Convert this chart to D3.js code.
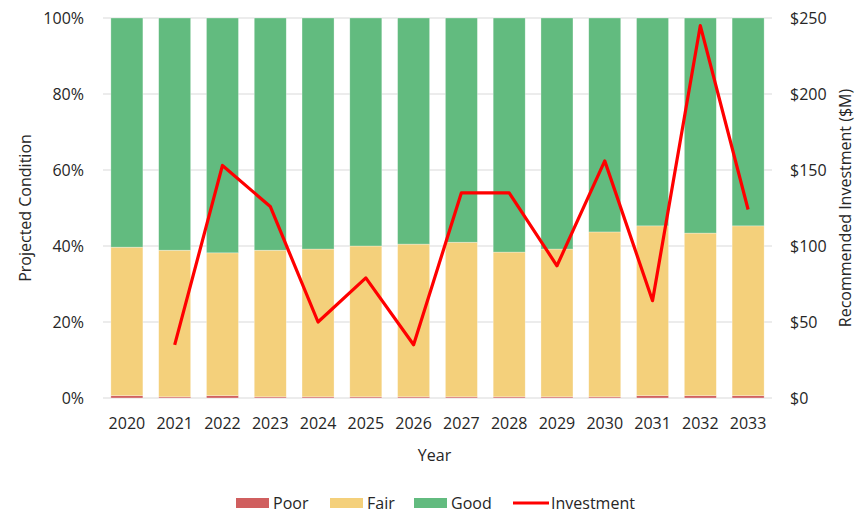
<!DOCTYPE html>
<html>
<head>
<meta charset="utf-8">
<script src="https://cdn.jsdelivr.net/npm/d3@7"></script>
<style>
  body { margin: 0; background: #fff; }
  svg text { font-family: "Segoe UI", "Open Sans", sans-serif; fill: #262626; }
  .grid line { stroke: #d9d9d9; }
</style>
</head>
<body>
<div id="chart"></div>
<script>
// --- data ---
const years = ["2020","2021","2022","2023","2024","2025","2026","2027","2028","2029","2030","2031","2032","2033"];
const poor = [0.6, 0.3, 0.6, 0.3, 0.3, 0.3, 0.3, 0.3, 0.3, 0.3, 0.3, 0.6, 0.6, 0.6];
const fair = [39.1, 38.6, 37.6, 38.6, 38.9, 39.7, 40.2, 40.7, 38.1, 38.9, 43.4, 44.7, 42.8, 44.7];
const good = years.map((y, i) => 100 - poor[i] - fair[i]);
const investment = [null, 35, 153, 126, 50, 79, 35, 135, 135, 87, 156, 64, 245, 124];
const pctTicks = [0, 20, 40, 60, 80, 100];
const usdTicks = [0, 50, 100, 150, 200, 250];

const W = 865, H = 513;
const margin = { top: 18, right: 93, bottom: 115, left: 103 };
const width = W - margin.left - margin.right;
const height = H - margin.top - margin.bottom;

const svg = d3.select("#chart").append("svg")
    .attr("width", W).attr("height", H);
const g = svg.append("g").attr("transform", `translate(${margin.left},${margin.top})`);

const x = d3.scaleBand().domain(years).range([0, width]).paddingInner(0.33).paddingOuter(0.165);
const yL = d3.scaleLinear().domain([0, 100]).range([height, 0]);
const yR = d3.scaleLinear().domain([0, 250]).range([height, 0]);

// gridlines
g.append("g").attr("class", "grid")
    .selectAll("line").data(pctTicks).enter().append("line")
    .attr("x1", 0).attr("x2", width)
    .attr("y1", d => yL(d)).attr("y2", d => yL(d));

// stacked bars
const rows = years.map((y, i) => ({ year: y, Poor: poor[i], Fair: fair[i], Good: good[i] }));
const keys = ["Poor", "Fair", "Good"];
const colors = { Poor: "#d05f5f", Fair: "#f4d07b", Good: "#62bb7f" };
const stack = d3.stack().keys(keys)(rows);

g.selectAll(".series").data(stack).enter().append("g")
    .attr("fill", d => colors[d.key])
    .selectAll("rect").data(d => d).enter().append("rect")
    .attr("x", d => x(d.data.year))
    .attr("width", x.bandwidth())
    .attr("y", d => yL(d[1]))
    .attr("height", d => yL(d[0]) - yL(d[1]))
    .attr("stroke", "#fff").attr("stroke-opacity", 0.5).attr("stroke-width", 0.6);

// investment line
const line = d3.line()
    .defined(d => d != null)
    .x((d, i) => x(years[i]) + x.bandwidth() / 2)
    .y(d => yR(d));
g.append("path").datum(investment)
    .attr("fill", "none").attr("stroke", "#ff0000").attr("stroke-width", 3.2)
    .attr("stroke-linejoin", "round")
    .attr("d", line);

// axes
const axL = g.append("g").call(d3.axisLeft(yL).tickValues(pctTicks).tickFormat(d => d + "%").tickSize(0).tickPadding(19));
const axR = g.append("g").attr("transform", `translate(${width},0)`)
    .call(d3.axisRight(yR).tickValues(usdTicks).tickFormat(d => "$" + d).tickSize(0).tickPadding(18));
const axB = g.append("g").attr("transform", `translate(0,${height})`)
    .call(d3.axisBottom(x).tickSize(0).tickPadding(20));
[axL, axR, axB].forEach(a => { a.select(".domain").remove(); a.selectAll("text").style("font-size", "16px"); });
axB.selectAll("text").attr("dy", "0.71em");

// axis titles
svg.append("text").attr("x", margin.left + width / 2 - 3).attr("y", 461)
    .attr("text-anchor", "middle").style("font-size", "16px").text("Year");
svg.append("text").attr("transform", `translate(31,${margin.top + height / 2}) rotate(-90)`)
    .attr("text-anchor", "middle").style("font-size", "16px").text("Projected Condition");
svg.append("text").attr("transform", `translate(851,${margin.top + height / 2}) rotate(-90)`)
    .attr("text-anchor", "middle").style("font-size", "16px").text("Recommended Investment ($M)");

// legend
const legend = [
  { name: "Poor", type: "rect", color: colors.Poor, x: 236 },
  { name: "Fair", type: "rect", color: colors.Fair, x: 330 },
  { name: "Good", type: "rect", color: colors.Good, x: 414 },
  { name: "Investment", type: "line", color: "#ff0000", x: 513 }
];
const lg = svg.append("g").attr("transform", "translate(0,503)");
legend.forEach(d => {
  if (d.type === "rect") {
    lg.append("rect").attr("x", d.x).attr("y", -5).attr("width", 33).attr("height", 10).attr("fill", d.color);
  } else {
    lg.append("line").attr("x1", d.x).attr("x2", d.x + 36).attr("y1", 0).attr("y2", 0)
      .attr("stroke", d.color).attr("stroke-width", 3);
  }
  lg.append("text").attr("x", d.x + (d.type === "rect" ? 37 : 38)).attr("y", 0).attr("dy", "0.35em")
    .style("font-size", "16px").text(d.name);
});
</script>
</body>
</html>
